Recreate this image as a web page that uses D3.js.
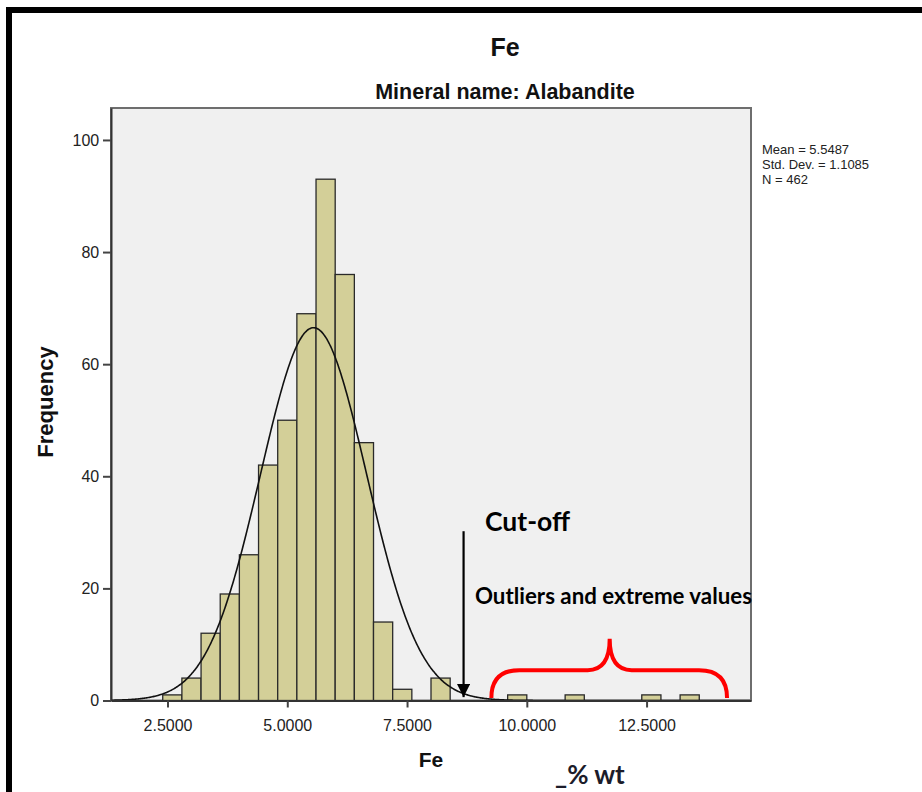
<!DOCTYPE html>
<html>
<head>
<meta charset="utf-8">
<script src="https://cdn.jsdelivr.net/npm/d3@7"></script>
<style>
  html, body { margin: 0; padding: 0; background: #fff; }
  svg { display: block; }
</style>
</head>
<body>
<svg id="chart" width="922" height="792"></svg>
<script>
// Fe content (% wt) in alabandite, histogram with 0.4-wide bins starting at 2.4
const binStart = 2.4;
const binWidth = 0.4;
const counts = [1, 4, 12, 19, 26, 42, 50, 69, 93, 76, 46, 14, 2, 0, 4,
                0, 0, 0, 1, 0, 0, 1, 0, 0, 0, 1, 0, 1];
const xTicks = [2.5, 5.0, 7.5, 10.0, 12.5];
const yTicks = [0, 20, 40, 60, 80, 100];
const statMean = 5.5487;
const statSD = 1.1085;
const statN = 462;
const statLines = ["Mean = 5.5487", "Std. Dev. = 1.1085", "N = 462"];

// annotation anchors in data units
const cutoffX = 8.68;
const cutoffTop = 30.2;
const braceLeft = 9.26, braceRight = 14.18, braceMid = 11.73;
const braceBase = 0.45, braceArm = 5.4, bracePeak = 11.0;

const svg = d3.select("#chart");
const W = 922, H = 792;
const plot = { left: 111, right: 751, top: 108, bottom: 700.5 };

const x = d3.scaleLinear().domain([1.32, 14.68]).range([plot.left, plot.right]);
const y = d3.scaleLinear().domain([0, 105.7]).range([plot.bottom, plot.top]);

const sans = "'Liberation Sans', Arial, sans-serif";
const cal = "Lato, 'Open Sans', sans-serif";

// outer frame
svg.append("rect").attr("x", 9).attr("y", 10).attr("width", W + 20).attr("height", H + 20)
  .attr("fill", "none").attr("stroke", "#000").attr("stroke-width", 6);

// plot panel
svg.append("rect")
  .attr("x", plot.left).attr("y", plot.top)
  .attr("width", plot.right - plot.left).attr("height", plot.bottom - plot.top)
  .attr("fill", "#f0f0f0").attr("stroke", "#6e6e6e").attr("stroke-width", 2);

// bars
const bins = counts.map((c, i) => ({ x0: binStart + i * binWidth, x1: binStart + (i + 1) * binWidth, n: c }))
  .filter(d => d.n > 0);
svg.append("g").selectAll("rect").data(bins).join("rect")
  .attr("x", d => x(d.x0))
  .attr("y", d => y(d.n))
  .attr("width", d => x(d.x1) - x(d.x0))
  .attr("height", d => y(0) - y(d.n))
  .attr("fill", "#d3cf98")
  .attr("stroke", "#2a2a2a")
  .attr("stroke-width", 1.3);

// fitted normal curve, scaled to counts
const scale = statN * binWidth;
const pdf = v => Math.exp(-0.5 * ((v - statMean) / statSD) ** 2) / (statSD * Math.sqrt(2 * Math.PI));
const curvePts = d3.range(1.32, 14.68, 0.02).map(v => [v, scale * pdf(v)]);
svg.append("path")
  .datum(curvePts)
  .attr("fill", "none").attr("stroke", "#111").attr("stroke-width", 1.6)
  .attr("d", d3.line().x(d => x(d[0])).y(d => y(d[1])).curve(d3.curveBasis));

// axes
const fmtX = d3.format(".4f");
const gx = svg.append("g").attr("transform", `translate(0,${plot.bottom})`)
  .call(d3.axisBottom(x).tickValues(xTicks).tickFormat(fmtX).tickSize(7).tickSizeOuter(0));
const gy = svg.append("g").attr("transform", `translate(${plot.left},0)`)
  .call(d3.axisLeft(y).tickValues(yTicks).tickSize(8).tickSizeOuter(0));
[gx, gy].forEach(g => {
  g.select(".domain").attr("stroke", "#333").attr("stroke-width", 2);
  g.selectAll(".tick line").attr("stroke", "#444").attr("stroke-width", 2);
  g.selectAll(".tick text").attr("fill", "#222").attr("font-family", sans).attr("font-size", 16);
});
gx.selectAll(".tick text").attr("dy", "1.3em");
gy.selectAll(".tick text").attr("dx", "-0.05em");

// titles
svg.append("text").attr("x", 505).attr("y", 56).attr("text-anchor", "middle")
  .attr("font-family", sans).attr("font-weight", "bold").attr("font-size", 25).attr("fill", "#111")
  .text("Fe");
svg.append("text").attr("x", 505).attr("y", 99).attr("text-anchor", "middle")
  .attr("font-family", sans).attr("font-weight", "bold").attr("font-size", 21.5).attr("fill", "#111")
  .text("Mineral name: Alabandite");

// axis titles
svg.append("text").attr("transform", "translate(53,402) rotate(-90)").attr("text-anchor", "middle")
  .attr("font-family", sans).attr("font-weight", "bold").attr("font-size", 22).attr("fill", "#111")
  .text("Frequency");
svg.append("text").attr("x", 431).attr("y", 767).attr("text-anchor", "middle")
  .attr("font-family", sans).attr("font-weight", "bold").attr("font-size", 21).attr("fill", "#111")
  .text("Fe");

// statistics block
svg.append("g").selectAll("text").data(statLines).join("text")
  .attr("x", 762).attr("y", (d, i) => 154 + i * 15)
  .attr("font-family", sans).attr("font-size", 13).attr("fill", "#222")
  .text(d => d);

// cut-off arrow
svg.append("defs").append("marker")
  .attr("id", "head").attr("viewBox", "0 0 10 10").attr("refX", 10).attr("refY", 5)
  .attr("markerWidth", 6).attr("markerHeight", 6).attr("markerUnits", "strokeWidth")
  .attr("orient", "auto")
  .append("path").attr("d", "M0,0L10,5L0,10Z").attr("fill", "#000");
svg.append("line")
  .attr("x1", x(cutoffX)).attr("x2", x(cutoffX))
  .attr("y1", y(cutoffTop)).attr("y2", y(0.6))
  .attr("stroke", "#000").attr("stroke-width", 2.2).attr("marker-end", "url(#head)");

svg.append("text").attr("x", 485).attr("y", 531)
  .attr("font-family", cal).attr("font-weight", 700).attr("font-size", 26.5).attr("fill", "#000")
  .text("Cut-off");
svg.append("text").attr("x", 475).attr("y", 604)
  .attr("font-family", cal).attr("font-weight", 700).attr("font-size", 22.3).attr("fill", "#000")
  .text("Outliers and extreme values");

// brace over the outlying bins
const bl = x(braceLeft), br = x(braceRight), bm = x(braceMid);
const yb = y(braceBase), ya = y(braceArm), yp = y(bracePeak);
const r = 28;
const bracePath = d3.path();
bracePath.moveTo(bl, yb);
bracePath.quadraticCurveTo(bl, ya, bl + r, ya);
bracePath.lineTo(bm - 22, ya);
bracePath.quadraticCurveTo(bm, ya, bm, yp);
bracePath.quadraticCurveTo(bm, ya, bm + 22, ya);
bracePath.lineTo(br - r, ya);
bracePath.quadraticCurveTo(br, ya, br, yb);
svg.append("path").attr("d", bracePath.toString())
  .attr("fill", "none").attr("stroke", "#ff0000").attr("stroke-width", 4);

// unit label
svg.append("text").attr("x", 555).attr("y", 784)
  .attr("font-family", cal).attr("font-weight", 700).attr("font-size", 26).attr("fill", "#1c1c2a")
  .text("_% wt");
</script>
</body>
</html>
